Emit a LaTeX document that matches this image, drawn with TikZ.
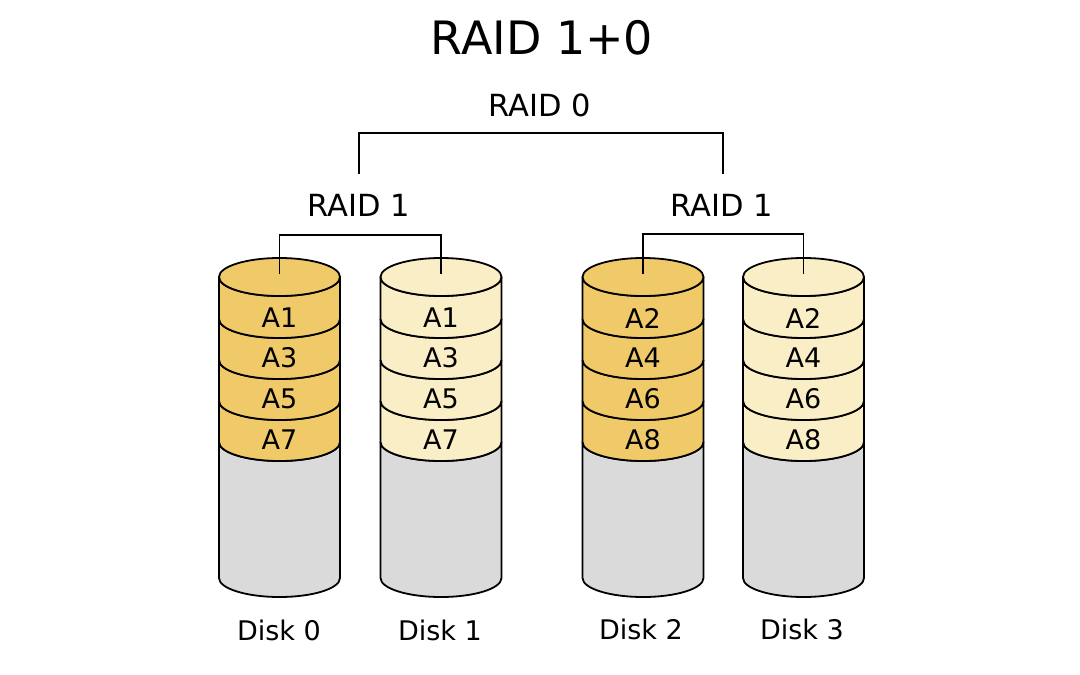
\documentclass[tikz,border=0pt]{standalone}
\usepackage{fontspec}
\setmainfont{DejaVu Sans}
\definecolor{gold}{RGB}{240,202,104}
\definecolor{cream}{RGB}{250,238,198}
\definecolor{diskgray}{RGB}{218,218,218}
\tikzset{
  outline/.style={draw=black, line width=1.8pt, line join=round},
  wire/.style={draw=black, line width=1.5pt},
  titlelbl/.style={inner sep=0pt, anchor=base, font=\fontsize{46}{46}\selectfont},
  raidlbl/.style={inner sep=0pt, anchor=base, font=\fontsize{30.5}{30.5}\selectfont},
  disklbl/.style={inner sep=0pt, anchor=base, font=\fontsize{27}{27}\selectfont},
  blocklbl/.style={inner sep=0pt, anchor=center, font=\fontsize{27}{27}\selectfont},
}
\newcommand{\cylseg}[5]{% cx, ytop, ybottom, colour, rx
  \path[outline, fill=#4] (#1-#5,#2) -- (#1-#5,#3)
    arc[start angle=180, end angle=360, x radius=#5 pt, y radius=19pt]
    -- (#1+#5,#2)
    arc[start angle=360, end angle=180, x radius=#5 pt, y radius=19pt]
    -- cycle;}
\newcommand{\diskdraw}[3]{% cx, colour, name prefix
  \cylseg{#1}{442}{578}{diskgray}{60.5}
  \cylseg{#1}{401}{442}{#2}{60.5}
  \cylseg{#1}{360}{401}{#2}{60.5}
  \cylseg{#1}{319}{360}{#2}{60.5}
  \cylseg{#1}{277}{319}{#2}{60.5}
  \path[outline, fill=#2] (#1,277) ellipse[x radius=60.5pt, y radius=19pt];
  \coordinate (#3top) at (#1,274);}
\begin{document}
\begin{tikzpicture}[x=1pt,y=-1pt]
\useasboundingbox[fill=white] (0,0) rectangle (1080,675);

\diskdraw{279.5}{gold}{d0}
\diskdraw{441}{cream}{d1}
\diskdraw{643}{gold}{d2}
\diskdraw{803.5}{cream}{d3}

% block labels
\foreach \cx/\a/\b/\c/\d/\n in {279.5/A1/A3/A5/A7/d0, 441/A1/A3/A5/A7/d1, 643/A2/A4/A6/A8/d2, 803.5/A2/A4/A6/A8/d3}{
  \node[blocklbl] (\n b1) at (\cx,318) {\a};
  \node[blocklbl] (\n b2) at (\cx,358) {\b};
  \node[blocklbl] (\n b3) at (\cx,399) {\c};
  \node[blocklbl] (\n b4) at (\cx,440) {\d};
}

% disk labels
\node[disklbl] (l0) at (279,640) {Disk 0};
\node[disklbl] (l1) at (440,640) {Disk 1};
\node[disklbl] (l2) at (641,639) {Disk 2};
\node[disklbl] (l3) at (802,639) {Disk 3};

% titles
\node[titlelbl] (title) at (542,54) {RAID 1+0};
\node[raidlbl] (raid0) at (540,116) {RAID 0};
\node[raidlbl] (raid1a) at (359,216) {RAID 1};
\node[raidlbl] (raid1b) at (722,216) {RAID 1};

% mirror connectors
\path[wire] (d0top) -- ++(0,-39) -| (d1top);
\path[wire] (d2top) -- ++(0,-40) -| (d3top);

% stripe connector
\coordinate (s0) at (359,174);
\coordinate (s1) at (723,174);
\path[wire] (s0) -- ++(0,-41) -| (s1);
\end{tikzpicture}
\end{document}
